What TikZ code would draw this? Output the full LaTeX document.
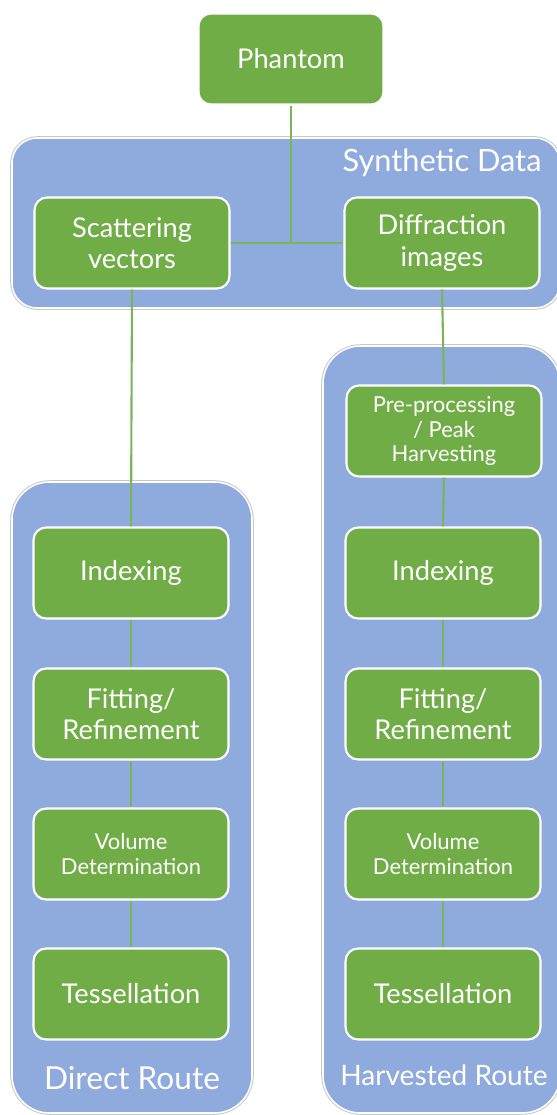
\documentclass[tikz,border=0pt]{standalone}
\usepackage{fontspec}
\setmainfont{Lato}
\usepackage{tikz}
\usetikzlibrary{positioning}
\definecolor{boxgreen}{HTML}{70AD47}
\definecolor{linegreen}{HTML}{7BB45A}
\definecolor{panelblue}{HTML}{8FAADC}

\begin{document}
\begin{tikzpicture}[x=0.02cm,y=-0.02cm,
  panel/.style={fill=panelblue,draw=white,line width=0.9pt,preaction={draw=black!22,line width=2pt}},
  stage/.style={rectangle,rounded corners=0.25cm,fill=boxgreen,draw=white,line width=1.2pt,
    text=white,align=center,minimum width=3.9cm,minimum height=1.82cm,inner sep=2pt,
    font=\fontsize{15.5}{18}\selectfont},
  smallstage/.style={stage,font=\fontsize{12.5}{14}\selectfont},
  paneltitle/.style={text=white,font=\fontsize{16}{19}\selectfont},
  conn/.style={draw=linegreen,line width=1.2pt}]
\useasboundingbox (0,0) rectangle (557,1115);
% containers
\draw[panel,rounded corners=0.5cm] (12,138) rectangle (560,308);
\draw[panel,rounded corners=0.75cm] (323,346) rectangle (560,1113);
\draw[panel,rounded corners=0.75cm] (12,482) rectangle (252,1113);
\node[paneltitle,font=\fontsize{17.5}{21}\selectfont] (sdtitle) at (442,163) {Synthetic Data};
\node[paneltitle,font=\fontsize{18}{21}\selectfont] (drtitle) at (132,1078) {Direct Route};
\node[paneltitle] (hrtitle) at (444,1075) {Harvested Route};
% stages
\node[stage,minimum width=3.7cm] (phantom) at (291,59) {Phantom};
\node[stage] (scat) at (132,243) {Scattering\\vectors};
\node[stage] (diff) at (442,243) {Diffraction\\images};
\node[smallstage] (prep) at (444,431) {Pre-processing\\/ Peak\\Harvesting};
\foreach \col/\cx in {l/131,r/443}{
  \node[stage] (\col idx) at (\cx,573) {Indexing};
  \node[stage] (\col fit) at (\cx,714) {Fitting/\\Refinement};
  \node[smallstage] (\col vol) at (\cx,854) {Volume\\Determination};
  \node[stage] (\col tes) at (\cx,994) {Tessellation};
}
% links
\coordinate (split) at (phantom.south |- scat.east);
\draw[conn] (phantom.south) -- (split);
\draw[conn] (scat.east) -- (diff.west);
\draw[conn] (scat.south) -- (lidx.north);
\draw[conn] (diff.south) -- (prep.north);
\draw[conn] (prep.south) -- (ridx.north);
\foreach \col in {l,r}{
  \draw[conn] (\col idx.south) -- (\col fit.north);
  \draw[conn] (\col fit.south) -- (\col vol.north);
  \draw[conn] (\col vol.south) -- (\col tes.north);
}
\end{tikzpicture}
\end{document}
